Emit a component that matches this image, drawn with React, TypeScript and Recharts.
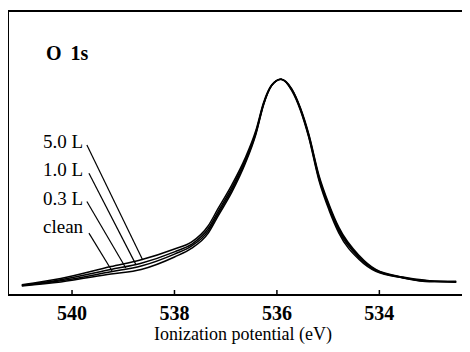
import React from "react";
import { LineChart, Line, XAxis, YAxis, ReferenceLine } from "recharts";

const energies = [540.98, 540.22, 539.24, 538.65, 538.0, 537.67, 537.34, 537.15, 536.88, 536.62, 536.41, 536.26, 536.1, 535.92, 535.71, 535.54, 535.38, 535.18, 534.98, 534.79, 534.39, 534.07, 533.54, 533.02, 532.5];
const l50 = [3.6, 5.8, 10.0, 12.4, 16.2, 18.6, 24.4, 30.4, 38.8, 48.2, 58.0, 67.8, 74.0, 76.0, 72.0, 65.0, 55.6, 40.4, 29.8, 21.8, 12.4, 8.3, 6.0, 4.7, 4.8];
const l10 = [3.4, 5.4, 9.0, 11.2, 15.2, 17.8, 23.4, 29.4, 37.8, 47.4, 57.4, 67.4, 73.9, 76.0, 72.2, 65.3, 56.0, 41.0, 30.6, 22.6, 13.0, 8.6, 6.1, 4.8, 4.7];
const l03 = [3.3, 5.0, 8.2, 10.2, 14.4, 17.2, 22.6, 28.6, 37.0, 46.8, 57.0, 67.2, 73.8, 76.0, 72.4, 65.6, 56.4, 41.6, 31.2, 23.2, 13.4, 8.8, 6.2, 4.9, 4.6];
const clean = [3.2, 4.6, 7.4, 9.0, 13.4, 16.4, 21.8, 27.8, 36.2, 46.2, 56.6, 67.0, 73.8, 76.0, 72.6, 65.8, 56.8, 42.2, 31.8, 23.8, 13.8, 9.0, 6.3, 5.0, 4.5];
const xTicks = [540, 538, 536, 534];

const labels = ["5.0 L", "1.0 L", "0.3 L", "clean"];
const leaderStarts = [
  { x: 539.71, y: 52.8 },
  { x: 539.67, y: 42.9 },
  { x: 539.71, y: 32.9 },
  { x: 539.67, y: 21.8 },
];
const leaderEnds = [
  { x: 538.62, y: 12.3 },
  { x: 538.75, y: 10.6 },
  { x: 538.95, y: 9.5 },
  { x: 539.21, y: 8.2 },
];
const labelY = [148, 176, 205, 233];

const data = energies.map((e, i) => ({ e, l50: l50[i], l10: l10[i], l03: l03[i], clean: clean[i] }));

const FONT = "Liberation Serif";

const Tick = (props: any) => {
  const { x, y, payload } = props;
  return (
    <g>
      <line x1={x} y1={y} x2={x} y2={y - 5} stroke="#000" strokeWidth={1.5} />
      <text x={x} y={y + 25} textAnchor="middle" fontFamily={FONT} fontWeight="bold" fontSize={20} fill="#000">
        {payload.value}
      </text>
    </g>
  );
};

export default function App() {
  const series = ["clean", "l03", "l10", "l50"];
  return (
    <div style={{ position: "relative", margin: -8, width: 470, height: 352, background: "#fff", fontFamily: FONT }}>
      <LineChart width={470} height={352} data={data} margin={{ top: 11, left: 8, right: 1, bottom: 0 }} style={{ fontFamily: FONT }}>
        <XAxis
          dataKey="e"
          type="number"
          domain={[532.25, 541.25]}
          reversed
          ticks={xTicks}
          tick={<Tick />}
          tickSize={0}
          tickMargin={0}
          height={57}
          stroke="#000"
          strokeWidth={2}
          allowDataOverflow
        />
        <YAxis type="number" domain={[0, 100]} width={0} tick={false} tickLine={false} axisLine={false} allowDataOverflow />
        <ReferenceLine y={100} stroke="#000" strokeWidth={2} />
        <ReferenceLine x={541.25} stroke="#000" strokeWidth={2} />
        {series.map((k) => (
          <Line key={k} dataKey={k} type="monotone" stroke="#000" strokeWidth={1.5} dot={false} isAnimationActive={false} />
        ))}
        {leaderStarts.map((s, i) => (
          <ReferenceLine key={i} segment={[s, leaderEnds[i]]} stroke="#000" strokeWidth={1.2} ifOverflow="visible" />
        ))}
      </LineChart>
      <svg width={470} height={352} style={{ position: "absolute", left: 0, top: 0, pointerEvents: "none" }}>
        <text x={46} y={60} fontFamily={FONT} fontWeight="bold" fontSize={20} fill="#000">
          O<tspan dx={9}>1s</tspan>
        </text>
        {labels.map((t, i) => (
          <text key={t} x={43} y={labelY[i]} fontFamily={FONT} fontSize={19} fill="#000">
            {t}
          </text>
        ))}
        <text x={243} y={340} textAnchor="middle" fontFamily={FONT} fontSize={18} fill="#000">
          Ionization potential (eV)
        </text>
      </svg>
    </div>
  );
}
